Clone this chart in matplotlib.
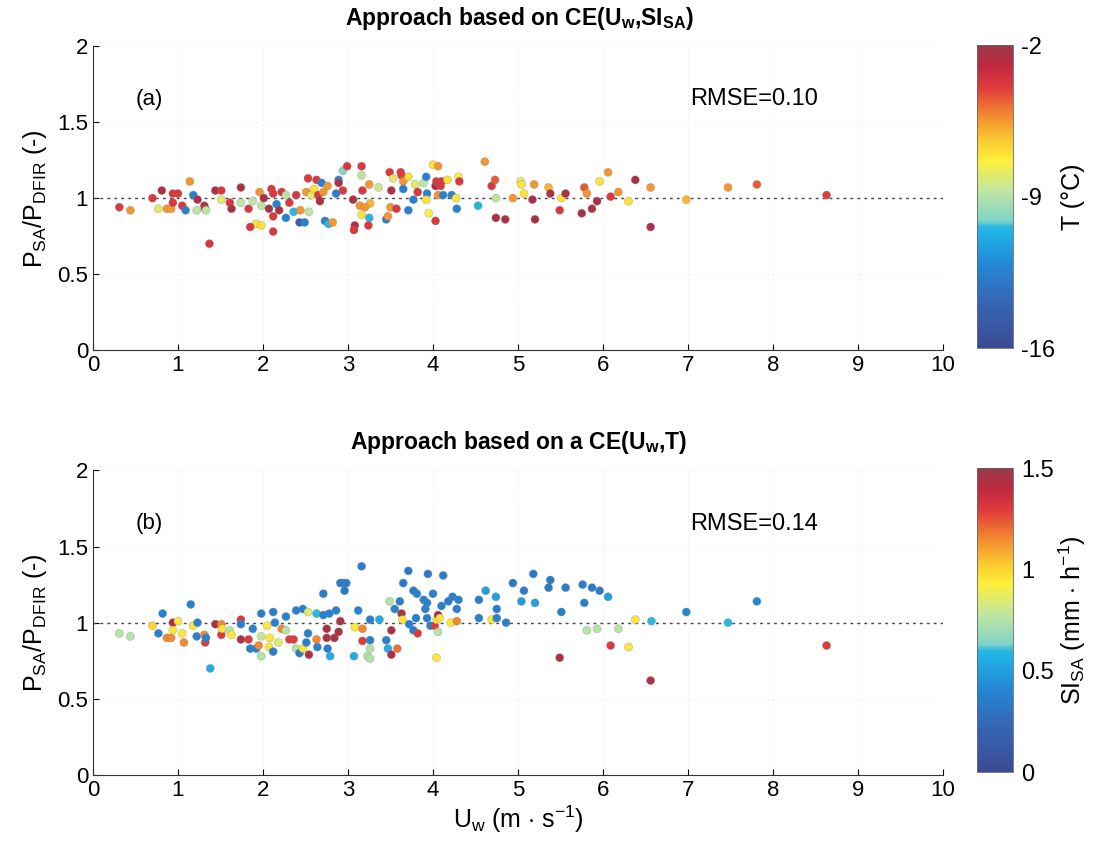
import numpy as np
import matplotlib
matplotlib.use('Agg')
import matplotlib.pyplot as plt
from matplotlib.colors import LinearSegmentedColormap, Normalize
from matplotlib.cm import ScalarMappable

plt.rcParams['font.family'] = ['Liberation Sans', 'DejaVu Sans']
plt.rcParams['mathtext.fontset'] = 'custom'
plt.rcParams['mathtext.rm'] = 'Liberation Sans'
plt.rcParams['mathtext.it'] = 'Liberation Sans'
plt.rcParams['mathtext.bf'] = 'Liberation Sans:bold'
plt.rcParams['axes.unicode_minus'] = False

# panel (a): wind speed, P_SA/P_DFIR, temperature
ua = [0.31, 0.44, 0.70, 0.81, 0.77, 0.87, 0.92, 0.94, 1.00, 0.94, 1.05, 1.09, 1.14, 1.18,
      1.23, 1.22, 1.31, 1.32, 1.33, 1.37, 1.44, 1.51, 1.51, 1.61, 1.63, 1.74, 1.74, 1.83,
      1.88, 1.92, 1.98, 1.85, 1.96, 1.98, 2.01, 2.10, 2.12, 2.07, 2.12, 2.12, 2.16, 2.19,
      2.22, 2.27, 2.27, 2.31, 2.36, 2.39, 2.43, 2.49, 2.44, 2.53, 2.51, 2.57, 2.54, 2.60,
      2.63, 2.65, 2.67, 2.69, 2.71, 2.73, 2.76, 2.77, 2.82, 2.86, 2.89, 2.89, 2.94, 2.94,
      2.99, 3.06, 3.08, 3.07, 3.16, 3.16, 3.14,
      3.25, 3.17, 3.26, 3.20, 3.16, 3.25, 3.24, 3.36, 3.49, 3.53, 3.62, 3.63, 3.65, 3.71,
      3.51, 3.65, 3.50, 3.57, 3.45, 3.47, 3.71, 3.77, 3.79, 3.82, 3.89, 3.92, 3.93, 3.92,
      3.95, 4.00, 4.06, 4.03, 4.04, 4.10, 4.09, 4.06, 4.12, 4.03, 4.17, 4.22, 4.27, 4.28,
      4.30, 4.31, 4.53, 4.61, 4.69, 4.73, 4.74, 4.74, 4.85, 4.94, 5.03, 5.04, 5.07, 5.17,
      5.19, 5.20, 5.36, 5.38, 5.49, 5.51, 5.56, 5.75, 5.78, 5.81, 5.87, 5.93, 5.96, 6.06,
      6.09, 6.18, 6.30, 6.38, 6.56, 6.56, 6.98, 7.47, 7.81, 8.63]
pa = [0.94, 0.92, 1.00, 1.05, 0.93, 0.93, 0.93, 1.03, 1.03, 0.97, 0.95, 0.92, 1.11, 1.02,
      0.99, 0.92, 0.95, 0.93, 0.92, 0.70, 1.05, 1.05, 0.99, 0.97, 0.93, 0.97, 1.07, 0.93,
      0.98, 0.83, 0.82, 0.81, 1.04, 0.95, 1.00, 1.06, 1.03, 0.93, 0.78, 0.88, 0.96, 0.92,
      1.04, 1.02, 0.87, 0.97, 0.91, 1.02, 0.84, 0.84, 0.92, 1.13, 1.04, 1.02, 0.91, 1.06,
      1.12, 1.02, 0.98, 1.10, 1.04, 0.85, 1.08, 0.83, 0.84, 1.03, 1.12, 1.10, 1.05, 1.18,
      1.21, 0.99, 0.82, 0.79, 1.21, 1.15, 0.95,
      1.09, 1.05, 0.965, 0.94, 0.89, 0.87, 0.82, 1.07, 1.17, 1.13, 1.17, 1.15, 1.11, 1.14,
      1.05, 1.06, 0.94, 0.93, 0.86, 0.88, 0.92, 0.99, 1.09, 1.04, 1.10, 1.14, 1.03, 0.99,
      0.90, 1.22, 1.21, 1.08, 1.11, 1.11, 1.08, 1.02, 1.02, 0.85, 1.12, 1.02, 1.00, 0.93,
      1.14, 1.11, 0.95, 1.24, 1.08, 1.12, 1.00, 0.87, 0.86, 1.00, 1.11, 1.09, 1.03, 0.99,
      1.09, 0.86, 1.07, 1.03, 0.92, 1.00, 1.03, 0.90, 1.07, 1.03, 0.93, 0.98, 1.11, 1.17,
      1.01, 1.04, 0.98, 1.12, 1.07, 0.81, 0.99, 1.07, 1.09, 1.02]
ta = [-3.8, -5.5, -3.8, -2.5, -8.0, -5.5, -5.5, -3.8, -3.8, -3.8, -3.8, -12.5, -5.5, -12.5,
      -2.5, -8.8, -2.5, -2.5, -8.8, -3.8, -2.5, -3.8, -8.0, -3.8, -2.5, -8.8, -2.5, -3.8,
      -8.8, -7.0, -7.0, -3.8, -5.5, -8.8, -2.5, -3.8, -3.8, -2.5, -3.8, -3.8, -12.5, -2.5,
      -3.8, -8.8, -12.5, -3.8, -10.5, -3.8, -14.5, -12.5, -5.5, -3.8, -5.5, -8.0, -8.8, -7.0,
      -3.8, -3.8, -2.5, -12.5, -5.5, -12.5, -5.5, -10.5, -5.5, -12.5, -12.5, -2.5, -3.8, -10.0,
      -3.8, -2.5, -2.5, -3.8, -3.8, -8.8, -5.5,
      -5.5, -3.8, -6.0, -5.5, -7.0, -10.5, -3.8, -8.5, -3.8, -8.0, -3.8, -4.0, -5.5, -7.0,
      -2.5, -12.5, -5.5, -3.8, -12.5, -5.5, -12.5, -12.5, -8.0, -3.8, -8.8, -12.5, -12.5, -7.0,
      -7.5, -7.0, -5.5, -2.5, -3.8, -3.8, -3.8, -5.5, -12.5, -3.8, -7.0, -12.5, -7.0, -12.5,
      -7.5, -3.8, -10.5, -5.5, -3.8, -4.5, -8.8, -2.5, -2.5, -5.5, -8.0, -7.0, -7.0, -2.5,
      -5.5, -2.5, -6.0, -2.5, -3.8, -7.0, -2.5, -2.5, -4.5, -5.5, -2.5, -2.5, -7.0, -5.5,
      -3.8, -5.5, -7.0, -2.5, -5.5, -2.5, -6.0, -5.5, -4.5, -4.0]

# panel (b): wind speed, P_SA/P_DFIR, SI_SA
ub = [0.31, 0.44, 0.70, 0.82, 0.77, 0.87, 0.92, 0.94, 1.00, 0.94, 1.05, 1.07, 1.15, 1.18,
      1.23, 1.22, 1.31, 1.32, 1.33, 1.38, 1.44, 1.51, 1.51, 1.52, 1.61, 1.63, 1.74, 1.74,
      1.74, 1.83, 1.85, 1.88, 1.92, 1.95, 1.98, 1.98, 1.98, 2.05, 2.07, 2.08, 2.12, 2.12,
      2.14, 2.18, 2.22, 2.27, 2.27, 2.31, 2.36, 2.39, 2.39, 2.43, 2.47, 2.47, 2.53, 2.53,
      2.54, 2.51, 2.63, 2.63, 2.64, 2.71, 2.71, 2.75, 2.75, 2.76, 2.79, 2.78, 2.84, 2.86,
      2.89, 2.91, 2.91, 2.94, 2.98, 2.96, 3.07, 3.08, 3.12, 3.16, 3.17, 3.23,
      3.17, 3.26, 3.26, 3.26, 3.26, 3.37, 3.45, 3.47, 3.51, 3.51, 3.58, 3.49, 3.55, 3.61,
      3.63, 3.65, 3.71, 3.64, 3.72, 3.77, 3.81, 3.77, 3.82, 3.80, 3.89, 3.93, 3.91, 3.94,
      4.00, 3.93, 3.97, 4.02, 4.04, 4.06, 4.08, 4.06, 4.04, 4.12, 4.10, 4.18, 4.23, 4.28,
      4.30, 4.21, 4.28, 4.54, 4.54, 4.62, 4.69, 4.74, 4.75, 4.75, 4.86, 4.94, 5.04, 5.07,
      5.18, 5.20, 5.36, 5.38, 5.49, 5.51, 5.56, 5.76, 5.78, 5.81, 5.87, 5.93, 5.96, 6.06,
      6.09, 6.18, 6.30, 6.38, 6.57, 6.56, 6.98, 7.47, 7.81, 8.63]
pb = [0.93, 0.91, 0.98, 1.06, 0.93, 0.90, 0.90, 1.00, 1.01, 0.95, 0.93, 0.87, 1.12, 0.98,
      1.00, 0.91, 0.92, 0.87, 0.90, 0.70, 0.99, 0.99, 0.92, 0.96, 0.95, 0.92, 1.02, 0.99,
      0.89, 0.89, 0.83, 0.96, 0.83, 0.85, 1.06, 0.78, 0.91, 0.98, 0.84, 0.90, 1.07, 0.81,
      1.00, 0.87, 0.96, 1.04, 0.95, 0.89, 0.89, 1.08, 0.83, 0.80, 1.09, 0.83, 1.07, 0.93,
      0.79, 0.87, 1.06, 0.89, 0.84, 1.19, 1.05, 0.96, 0.90, 0.83, 0.78, 1.06, 0.90, 1.08,
      0.94, 1.01, 1.26, 1.26, 1.26, 1.21, 0.78, 0.97, 1.08, 1.37, 0.88, 0.78,
      0.96, 1.02, 0.885, 0.83, 0.765, 1.02, 0.885, 0.83, 0.79, 0.95, 0.83, 1.14, 1.09, 1.14,
      1.06, 1.26, 1.34, 1.02, 0.99, 1.21, 1.19, 0.95, 0.93, 1.03, 1.15, 1.13, 1.09, 1.32,
      1.19, 1.03, 0.98, 0.98, 1.02, 1.05, 1.03, 0.94, 0.77, 1.31, 1.11, 1.14, 1.17, 1.09,
      1.15, 1.00, 1.01, 1.15, 1.03, 1.21, 1.02, 1.17, 1.09, 1.03, 1.00, 1.26, 1.14, 1.21,
      1.32, 1.13, 1.23, 1.28, 0.77, 1.07, 1.23, 1.25, 1.13, 0.95, 1.23, 0.96, 1.21, 1.17,
      0.85, 0.96, 0.84, 1.02, 1.01, 0.62, 1.07, 1.00, 1.14, 0.85]
sb = [0.75, 0.75, 1.0, 0.38, 0.38, 1.15, 1.15, 1.45, 0.95, 0.95, 0.95, 1.15, 0.38, 0.95,
      0.38, 0.38, 1.15, 1.3, 0.38, 0.55, 1.45, 1.15, 1.3, 0.95, 0.75, 0.95, 1.3, 0.38,
      1.45, 1.3, 0.38, 0.38, 0.38, 1.15, 0.38, 0.75, 0.8, 0.95, 0.95, 0.95, 0.38, 0.38,
      0.38, 0.85, 1.15, 0.38, 0.75, 1.3, 1.3, 0.38, 0.75, 0.35, 0.38, 0.95, 0.85, 0.38,
      1.45, 0.38, 0.6, 1.15, 0.38, 0.35, 0.38, 1.45, 1.45, 0.38, 0.55, 0.38, 1.45, 0.38,
      1.45, 1.45, 0.35, 0.35, 0.35, 0.35, 0.55, 0.95, 0.4, 0.35, 1.3, 0.75,
      1.15, 0.38, 0.38, 0.75, 0.75, 0.55, 0.38, 0.55, 1.45, 1.45, 1.2, 0.75, 0.38, 0.38,
      1.45, 0.35, 0.35, 0.95, 0.38, 0.35, 0.38, 0.38, 1.3, 0.38, 0.38, 0.38, 0.38, 0.35,
      0.38, 0.38, 0.38, 1.3, 0.95, 1.45, 0.95, 0.75, 0.95, 0.35, 0.38, 0.35, 0.38, 0.38,
      0.38, 0.95, 1.15, 0.35, 0.38, 0.5, 0.95, 0.5, 0.38, 0.38, 0.38, 0.35, 0.5, 0.35,
      0.35, 0.5, 0.35, 0.35, 1.45, 0.38, 0.35, 0.35, 0.38, 0.75, 0.35, 0.75, 0.35, 0.5,
      1.3, 0.75, 0.95, 0.95, 0.6, 1.45, 0.4, 0.6, 0.4, 1.3]

cmap = LinearSegmentedColormap.from_list('spec', [
    (0.00, '#3b4a92'), (0.15, '#3566b5'), (0.28, '#2389d6'), (0.38, '#1fb2e6'),
    (0.40, '#2ab8e0'), (0.42, '#7fd4c8'), (0.52, '#c0e6a0'), (0.62, '#fff03a'),
    (0.70, '#f8c030'), (0.78, '#f08030'), (0.86, '#e03c3c'), (0.93, '#c02840'),
    (1.00, '#9a3a48')])

fig = plt.figure(figsize=(11.04, 8.51), dpi=100)
ax1 = fig.add_axes([0.0842, 0.5887, 0.770, 0.357])
ax2 = fig.add_axes([0.0842, 0.0893, 0.770, 0.358])
cax1 = fig.add_axes([0.885, 0.591, 0.0326, 0.356])
cax2 = fig.add_axes([0.885, 0.0928, 0.0326, 0.357])

norm1 = Normalize(-16, -2)
norm2 = Normalize(0, 1.5)

for ax, u, p, c, norm in [(ax1, ua, pa, ta, norm1), (ax2, ub, pb, sb, norm2)]:
    ax.plot([0, 10], [1, 1], color='#444444', lw=1, ls=(0, (2, 3)), zorder=1)
    ax.scatter(u, p, c=c, cmap=cmap, norm=norm, s=34, edgecolors=(0.5, 0.5, 0.5, 0.35),
               linewidths=0.6, zorder=3)
    ax.set_xlim(0, 10)
    ax.set_ylim(0, 2)
    ax.set_xticks(range(0, 11))
    ax.set_yticks([0, 0.5, 1, 1.5, 2])
    ax.set_yticklabels(['0', '0.5', '1', '1.5', '2'])
    ax.tick_params(direction='in', labelsize=16, length=4, width=0.8)
    ax.grid(True, color='#dddddd', lw=0.6, ls=(0, (1, 4)))
    ax.set_axisbelow(True)
    for s in ['top', 'right']:
        ax.spines[s].set_visible(False)
    for s in ['left', 'bottom']:
        ax.spines[s].set_color('#333333')
    ax.set_ylabel('P$_{SA}$/P$_{DFIR}$ (-)', fontsize=18, labelpad=6)

ax1.text(0.5, 1.65, '(a)', fontsize=16, va='center')
ax1.text(7.02, 1.65, 'RMSE=0.10', fontsize=17, va='center')
ax2.text(0.5, 1.65, '(b)', fontsize=16, va='center')
ax2.text(7.02, 1.65, 'RMSE=0.14', fontsize=17, va='center')
ax2.set_xlabel('U$_w$ (m $\\cdot$ s$^{-1}$)', fontsize=18, labelpad=2)

fig.text(0.47, 1 - 18 / 851, 'Approach based on CE(U$_\\mathbf{w}$,SI$_\\mathbf{SA}$)',
         ha='center', va='center', fontsize=16.5, fontweight='bold')
fig.text(0.47, 1 - 443 / 851, 'Approach based on a CE(U$_\\mathbf{w}$,T)',
         ha='center', va='center', fontsize=16.5, fontweight='bold')

cb1 = fig.colorbar(ScalarMappable(norm=norm1, cmap=cmap), cax=cax1)
cb1.set_ticks([-16, -9, -2])
cb1.set_label('T (°C)', fontsize=18, labelpad=4)
cb2 = fig.colorbar(ScalarMappable(norm=norm2, cmap=cmap), cax=cax2)
cb2.set_ticks([0, 0.5, 1, 1.5])
cb2.set_ticklabels(['0', '0.5', '1', '1.5'])
cb2.set_label('SI$_{SA}$ (mm $\\cdot$ h$^{-1}$)', fontsize=18, labelpad=2)
for cb in [cb1, cb2]:
    cb.ax.tick_params(labelsize=17, length=0, pad=6)
    cb.outline.set_edgecolor('#666666')
    cb.outline.set_linewidth(0.6)

fig.savefig('out.png', dpi=100)
